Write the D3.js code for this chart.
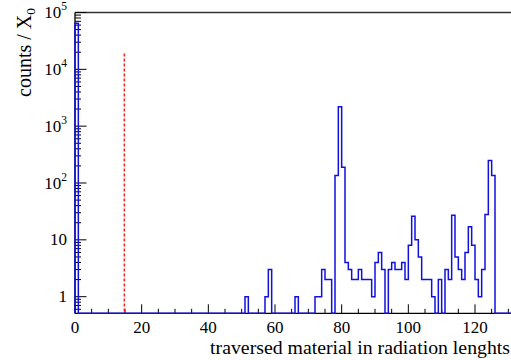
<!DOCTYPE html>
<html>
<head>
<meta charset="utf-8">
<script src="https://cdn.jsdelivr.net/npm/d3@7"></script>
<style>
  html, body { margin: 0; padding: 0; background: #fff; }
  svg { display: block; }
</style>
</head>
<body>
<svg id="chart" width="511" height="360"></svg>
<script>
// Histogram of traversed material, 1 X0 wide bins; only non-empty bins are listed
const binLow   = [0, 51, 57, 58, 66, 72, 73, 74, 75, 76, 78, 79, 80, 81, 82, 83, 84, 85, 86, 87, 88, 89, 90, 91, 92,
                  94, 95, 96, 97, 98, 99, 100, 101, 102, 103, 104, 105, 106, 107, 109, 111, 112, 113, 114, 115, 116,
                  117, 118, 119, 120, 121, 122, 123, 124, 125];
const binCount = [65000, 1, 1, 3, 1, 1, 1, 3, 2, 2, 135, 2200, 190, 4, 3, 2, 2, 3, 2, 2, 2, 1, 4, 6, 3,
                  3, 4, 3, 3, 4, 2, 8, 26, 10, 5, 2, 2, 2, 1, 2, 3, 2, 27, 5, 3, 2,
                  6, 17, 8, 2, 1, 3, 28, 250, 135];
const nBins = 132;
const binWidth = 1;

// Reference cut marked by the dashed line
const cutValue = 14.8;
const cutHeight = 19000;

// Axis ticks
const xMajorTicks = [0, 20, 40, 60, 80, 100, 120];
const yMajorTicks = [1, 10, 100, 1000, 10000, 100000];
const yTickLabels = ["1", "10", "10|2", "10|3", "10|4", "10|5"];

const serif = '"Liberation Serif", "Times New Roman", "DejaVu Serif"';
const svg = d3.select("#chart");
const frameLeft = 75, frameRight = 515, frameTop = 12.5, frameBottom = 313.3;

const x = d3.scaleLinear().domain([0, nBins]).range([frameLeft, frameRight]);
const y = d3.scaleLog().domain([0.51, 1e5]).range([frameBottom, frameTop]);

// full content array
const counts = new Array(nBins).fill(0);
binLow.forEach((b, i) => { counts[b] = binCount[i]; });

// frame
const g = svg.append("g");
g.append("line").attr("x1", frameLeft).attr("x2", 511).attr("y1", frameTop).attr("y2", frameTop)
  .attr("stroke", "#333").attr("stroke-width", 1.4);

// X axis: major ticks every 20, minor every 5, drawn inward
const xMinor = d3.range(0, nBins + 1, 5).filter(v => v % 20 !== 0);
g.append("line").attr("x1", frameLeft).attr("x2", 511).attr("y1", frameBottom).attr("y2", frameBottom)
  .attr("stroke", "#000").attr("stroke-width", 1.3);
g.selectAll(".xmaj").data(xMajorTicks).join("line")
  .attr("x1", d => x(d)).attr("x2", d => x(d)).attr("y1", frameBottom).attr("y2", frameBottom - 9)
  .attr("stroke", "#000").attr("stroke-width", 1);
g.selectAll(".xmin").data(xMinor).join("line")
  .attr("x1", d => x(d)).attr("x2", d => x(d)).attr("y1", frameBottom).attr("y2", frameBottom - 4.5)
  .attr("stroke", "#000").attr("stroke-width", 1);
g.selectAll(".xlab").data(xMajorTicks).join("text")
  .attr("x", d => x(d)).attr("y", 333).attr("text-anchor", "middle")
  .style("font-family", serif).style("font-size", "17px").text(d => d);

// Y axis: log ticks
g.append("line").attr("x1", frameLeft).attr("x2", frameLeft).attr("y1", frameTop).attr("y2", frameBottom)
  .attr("stroke", "#000").attr("stroke-width", 1.3);
const yMinor = [];
for (let e = -1; e < 5; e++) {
  for (let m = 2; m <= 9; m++) {
    const v = m * Math.pow(10, e);
    if (v >= 0.51 && v <= 1e5) yMinor.push(v);
  }
}
g.selectAll(".ymaj").data(yMajorTicks).join("line")
  .attr("x1", frameLeft).attr("x2", frameLeft + 11.5).attr("y1", d => y(d)).attr("y2", d => y(d))
  .attr("stroke", "#000").attr("stroke-width", 1);
g.selectAll(".ymin").data(yMinor).join("line")
  .attr("x1", frameLeft).attr("x2", frameLeft + 6).attr("y1", d => y(d)).attr("y2", d => y(d))
  .attr("stroke", "#000").attr("stroke-width", 1);
const ylab = g.selectAll(".ylab").data(yMajorTicks).join("text")
  .attr("x", 67).attr("y", d => y(d) + 5.5).attr("text-anchor", "end")
  .style("font-family", serif).style("font-size", "17px");
ylab.each(function(d, i) {
  const parts = yTickLabels[i].split("|");
  const t = d3.select(this);
  t.append("tspan").text(parts[0]);
  if (parts[1]) {
    t.append("tspan").attr("dy", -8).style("font-size", "11.5px").text(parts[1]);
  }
});

// histogram outline
const pts = [[x(0), frameBottom]];
counts.forEach((c, i) => {
  const yy = c > 0 ? y(c) : frameBottom;
  pts.push([x(i * binWidth), yy]);
  pts.push([x((i + 1) * binWidth), yy]);
});
pts.push([x(nBins), frameBottom]);
svg.append("path")
  .attr("d", d3.line()(pts))
  .attr("fill", "none").attr("stroke", "#1010e0").attr("stroke-width", 1.5)
  .attr("stroke-linejoin", "miter");

// cut line
svg.append("line")
  .attr("x1", x(cutValue)).attr("x2", x(cutValue))
  .attr("y1", y(cutHeight)).attr("y2", frameBottom)
  .attr("stroke", "#ff2020").attr("stroke-width", 1.5).attr("stroke-dasharray", "3,2");

// axis titles
svg.append("text")
  .attr("x", 510).attr("y", 354).attr("text-anchor", "end")
  .style("font-family", serif).style("font-size", "19.8px")
  .text("traversed material in radiation lenghts");

const yt = svg.append("text")
  .attr("transform", "translate(31,8) rotate(-90)")
  .attr("text-anchor", "end").style("font-family", serif).style("font-size", "20px");
yt.append("tspan").text("counts / X");
yt.append("tspan").attr("dy", 4).style("font-size", "13.5px").text("0");
</script>
</body>
</html>
